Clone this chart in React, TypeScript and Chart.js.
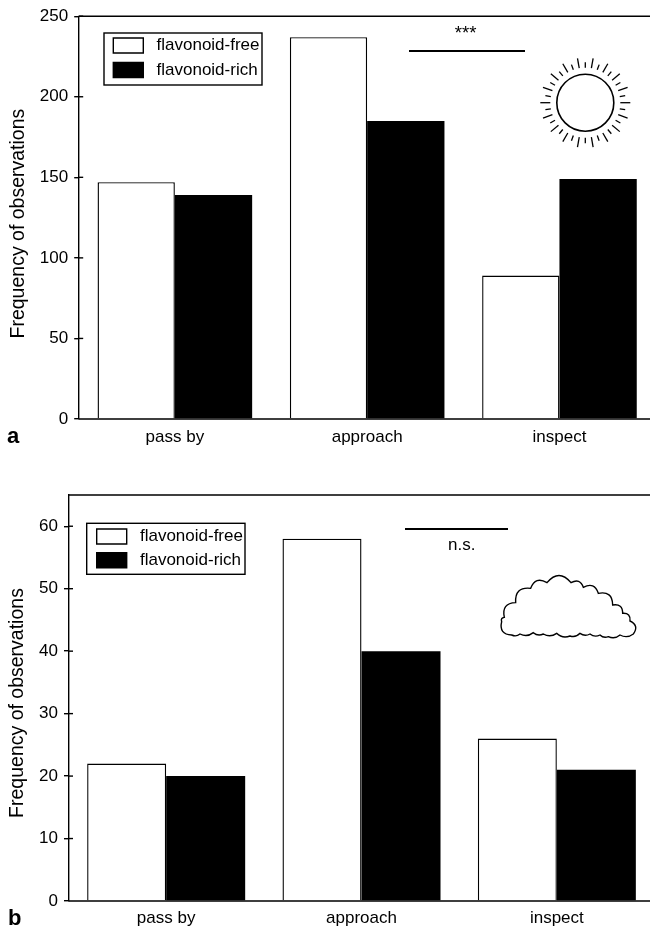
import React, { useEffect, useRef } from "react";
import { Chart, registerables } from "chart.js";

Chart.register(...registerables);

const categories = ["pass by", "approach", "inspect"];
const seriesNames = ["flavonoid-free", "flavonoid-rich"];
const sunnyFree = [147, 237, 89];
const sunnyRich = [139, 185, 149];
const cloudyFree = [22, 58, 26];
const cloudyRich = [20, 40, 21];
const yTitle = "Frequency of observations";

const FONT = "'Liberation Sans', Arial, sans-serif";
const INK = "#000000";

type Panel = {
  free: number[]; rich: number[]; max: number; step: number;
  top: number; height: number; areaTop: number; areaBottom: number; areaLeft: number; areaRight: number;
  groupShare: number; legendBox: number[]; swatch: number[]; legendPad: number; gap: string;
  bar: number[]; barText: string; barTextXY: number[]; barFont: number;
  letter: string; letterXY: number[]; icon: "sun" | "cloud";
  titleShift: number; titlePad: number; xPad: number;
};

const panels: Panel[] = [
  {
    free: sunnyFree, rich: sunnyRich, max: 250, step: 50,
    top: 0, height: 465, areaTop: 13, areaBottom: 419, areaLeft: 78.7, areaRight: 655.6,
    groupShare: 0.804, legendBox: [104, 33, 158, 52], swatch: [113.3, 38], legendPad: 7.5, gap: " ",
    bar: [409, 525, 51], barText: "***", barTextXY: [465.7, 33.5], barFont: 18.6,
    letter: "a", letterXY: [7, 443], icon: "sun",
    titleShift: 6, titlePad: 6.5, xPad: 8,
  },
  {
    free: cloudyFree, rich: cloudyRich, max: 65, step: 10,
    top: 465, height: 464, areaTop: 495, areaBottom: 901, areaLeft: 68.5, areaRight: 654.5,
    groupShare: 0.809, legendBox: [86.7, 523.3, 158.3, 51], swatch: [96.7, 529], legendPad: 6.7, gap: " ",
    bar: [405, 508, 529], barText: "n.s.", barTextXY: [461.7, 545], barFont: 17,
    letter: "b", letterXY: [8, 925], icon: "cloud",
    titleShift: 5, titlePad: 5.5, xPad: 7,
  },
];

// Cloud outline cusps, in a 3x frame whose origin is (400, 480) on the page.
const cloudCusps: number[][] = [
  [313, 412], [347, 368], [392, 325], [441, 308], [513, 308], [550, 322], [595, 340], [638, 375],
  [668, 400], [690, 423], [700, 462], [660, 465], [625, 470], [600, 465], [570, 462], [540, 460],
  [510, 468], [470, 460], [430, 462], [400, 458], [360, 462], [335, 465], [305, 425],
];

function drawSun(ctx: CanvasRenderingContext2D, cx: number, cy: number) {
  ctx.lineWidth = 1.6;
  ctx.beginPath();
  ctx.arc(cx, cy, 28.5, 0, Math.PI * 2);
  ctx.stroke();
  ctx.lineWidth = 1.3;
  for (let i = 0; i < 36; i++) {
    const a = (i * Math.PI) / 18;
    const outer = i % 2 === 0 ? 45 : 40.5;
    ctx.beginPath();
    ctx.moveTo(cx + Math.cos(a) * 35, cy + Math.sin(a) * 35);
    ctx.lineTo(cx + Math.cos(a) * outer, cy + Math.sin(a) * outer);
    ctx.stroke();
  }
}

function drawCloud(ctx: CanvasRenderingContext2D, offsetY: number) {
  const px = (p: number[]) => [400 + p[0] / 3, 480 + p[1] / 3 - offsetY];
  ctx.lineWidth = 1.4;
  ctx.beginPath();
  const first = px(cloudCusps[0]);
  ctx.moveTo(first[0], first[1]);
  for (let i = 1; i <= cloudCusps.length; i++) {
    const a = px(cloudCusps[i - 1]);
    const b = px(cloudCusps[i % cloudCusps.length]);
    const dx = b[0] - a[0];
    const dy = b[1] - a[1];
    const k = i <= 10 || i >= 22 ? 0.6 : 0.32;
    ctx.quadraticCurveTo((a[0] + b[0]) / 2 + dy * k, (a[1] + b[1]) / 2 - dx * k, b[0], b[1]);
  }
  ctx.closePath();
  ctx.stroke();
}

function PanelChart({ panel }: { panel: Panel }) {
  const ref = useRef<HTMLCanvasElement | null>(null);
  useEffect(() => {
    if (!ref.current) return;
    const off = panel.top;
    const decor = {
      id: "decor",
      beforeDraw(chart: any) {
        const lg = chart.legend;
        const pad = panel.legendPad;
        lg.left = panel.swatch[0] - pad;
        lg.top = panel.swatch[1] - off - pad - 1;
        lg.right = lg.left + 200;
        lg.bottom = lg.top + 100;
      },
      afterDraw(chart: any) {
        const ctx: CanvasRenderingContext2D = chart.ctx;
        const { top, left, right, bottom } = chart.chartArea;
        const y = chart.scales.y;
        ctx.save();
        ctx.strokeStyle = INK;
        ctx.fillStyle = INK;
        ctx.lineWidth = 1.4;
        ctx.beginPath();
        ctx.moveTo(left, top);
        ctx.lineTo(right + 20, top);
        ctx.moveTo(left, bottom);
        ctx.lineTo(right + 20, bottom);
        ctx.stroke();
        y.ticks.forEach((_t: any, i: number) => {
          const py = y.getPixelForTick(i);
          if (py >= bottom - 1) return;
          ctx.beginPath();
          ctx.moveTo(left, py);
          ctx.lineTo(left + 4.5, py);
          ctx.stroke();
        });
        const b = panel.legendBox;
        ctx.lineWidth = 1.4;
        ctx.strokeRect(b[0], b[1] - off, b[2], b[3]);
        ctx.lineWidth = 2.2;
        ctx.beginPath();
        ctx.moveTo(panel.bar[0], panel.bar[2] - off);
        ctx.lineTo(panel.bar[1], panel.bar[2] - off);
        ctx.stroke();
        ctx.font = `${panel.barFont}px ${FONT}`;
        ctx.textAlign = "center";
        ctx.textBaseline = "middle";
        ctx.fillText(panel.barText, panel.barTextXY[0], panel.barTextXY[1] - off);
        ctx.font = `bold 22px ${FONT}`;
        ctx.textAlign = "left";
        ctx.textBaseline = "alphabetic";
        ctx.fillText(panel.letter, panel.letterXY[0], panel.letterXY[1] - off);
        if (panel.icon === "sun") drawSun(ctx, 585.3, 102.7 - off);
        else drawCloud(ctx, off);
        ctx.restore();
      },
    };
    const chart = new Chart(ref.current, {
      type: "bar",
      data: {
        labels: categories,
        datasets: [
          { label: seriesNames[0], data: panel.free, backgroundColor: "#ffffff", borderColor: INK, borderWidth: 1.4 },
          { label: seriesNames[1], data: panel.rich, backgroundColor: INK, borderColor: INK, borderWidth: 0 },
        ],
      },
      options: {
        responsive: false,
        animation: false,
        datasets: { bar: { categoryPercentage: panel.groupShare, barPercentage: 1 } },
        layout: {
          padding: { left: 0, right: 670 - panel.areaRight, top: panel.areaTop - off, bottom: 0 },
        },
        plugins: {
          title: { display: false },
          tooltip: { enabled: false },
          legend: {
            display: true,
            position: "chartArea",
            align: "start",
            labels: {
              boxWidth: 30,
              boxHeight: 15,
              padding: panel.legendPad,
              color: INK,
              font: { family: FONT, size: 17 },
              generateLabels: (c: any) =>
                c.data.datasets.map((d: any, i: number) => ({
                  text: panel.gap + d.label,
                  fillStyle: d.backgroundColor,
                  strokeStyle: INK,
                  lineWidth: 1.4,
                  hidden: false,
                  datasetIndex: i,
                })),
            },
          },
        },
        scales: {
          x: {
            afterFit: (s: any) => { s.height = panel.height + off - panel.areaBottom; },
            grid: { display: false, drawTicks: false },
            border: { display: false },
            ticks: { color: INK, padding: panel.xPad, font: { family: FONT, size: 17 }, maxRotation: 0 },
          },
          y: {
            min: 0,
            max: panel.max,
            afterFit: (s: any) => {
              s.width = panel.areaLeft;
              if (!s.__shifted) {
                s.__shifted = true;
                const base = s.drawTitle;
                s.drawTitle = function () {
                  const c = s.ctx;
                  c.save();
                  c.translate(0, panel.titleShift);
                  base.call(s);
                  c.restore();
                };
              }
            },
            grid: { drawOnChartArea: false, drawTicks: true, tickLength: 4.5, color: INK, lineWidth: 1.4 },
            border: { display: true, color: INK, width: 1.4 },
            title: {
              display: true,
              text: yTitle,
              color: INK,
              font: { family: FONT, size: 19.5 },
              padding: { top: panel.titlePad, bottom: 0 },
            },
            ticks: {
              stepSize: panel.step,
              includeBounds: false,
              color: INK,
              padding: 6,
              font: { family: FONT, size: 17 },
            },
          },
        },
      },
      plugins: [decor],
    } as any);
    return () => chart.destroy();
  }, [panel]);
  return (
    <canvas
      ref={ref}
      width={670}
      height={panel.height}
      style={{ position: "absolute", left: 0, top: panel.top, width: 670, height: panel.height, display: "block" }}
    />
  );
}

export default function App() {
  return (
    <div style={{ position: "absolute", left: 0, top: 0, width: 650, height: 929, overflow: "hidden", background: "#fff" }}>
      {panels.map((p) => (
        <PanelChart key={p.letter} panel={p} />
      ))}
    </div>
  );
}
